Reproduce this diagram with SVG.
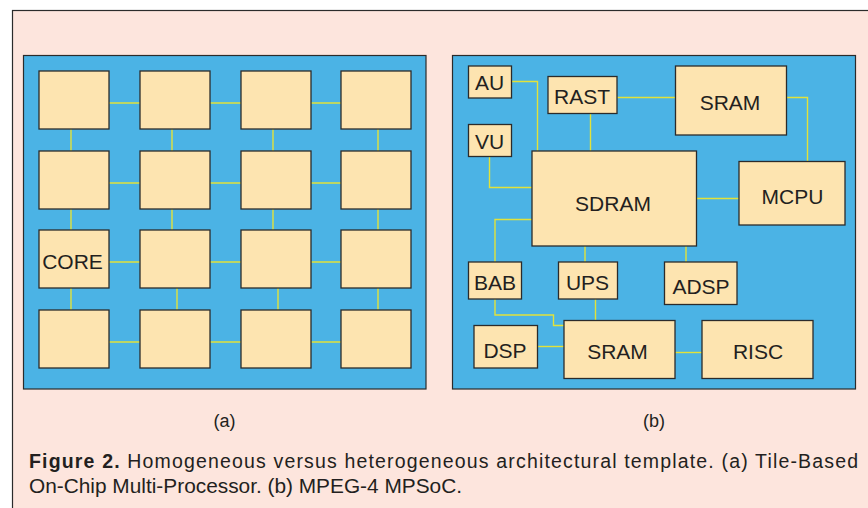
<svg xmlns="http://www.w3.org/2000/svg" width="868" height="508" viewBox="0 0 868 508">
  <style>
    .panel { fill: #4bb3e5; stroke: #2b2b2b; stroke-width: 1.2; }
    .node { fill: #fde4b0; stroke: #2b2b2b; stroke-width: 1.3; }
    .link { fill: none; stroke: #e2e23a; stroke-width: 1.4; }
    .lbl { font-family: "Liberation Sans", Arial, Helvetica, sans-serif; font-size: 21px; fill: #231f20; text-anchor: middle; }
    .sub { font-family: "Liberation Sans", Arial, Helvetica, sans-serif; font-size: 18px; fill: #231f20; text-anchor: middle; }
    .cap { font-family: "Liberation Sans", Arial, Helvetica, sans-serif; font-size: 19.5px; fill: #231f20; }
  </style>

  <!-- figure frame -->
  <rect x="12.5" y="10.5" width="870" height="510" fill="#fde5dd" stroke="#2b2b2b" stroke-width="1.2"/>

  <!-- (a) tile-based panel -->
  <rect class="panel" x="23.5" y="55.5" width="402.5" height="333.5"/>
  <!-- (b) MPSoC panel -->
  <rect class="panel" x="452.5" y="55.5" width="403" height="333.5"/>

  <g id="connectors">
    <!-- mesh: horizontal links -->
    <path class="link" d="M109 103H140M210 103H241M311 103H341"/>
    <path class="link" d="M109 183H140M210 183H241M311 183H341"/>
    <path class="link" d="M109 262H140M210 262H241M311 262H341"/>
    <path class="link" d="M109 342H140M210 342H241M311 342H341"/>
    <!-- mesh: vertical links -->
    <path class="link" d="M71 129V151M172 129V151M273 129V151M378 129V151"/>
    <path class="link" d="M71 209V230M172 209V230M273 209V230M378 209V230"/>
    <path class="link" d="M71 288V310M177 288V310M278 288V310M378 288V310"/>

    <!-- MPSoC links -->
    <path class="link" d="M511 81.5H537.5V151"/>
    <path class="link" d="M590.5 113.5V151"/>
    <path class="link" d="M617 97.5H675.5"/>
    <path class="link" d="M786.5 97.5H807.5V161.5"/>
    <path class="link" d="M489.5 156V187.5H532"/>
    <path class="link" d="M696 198.5H739"/>
    <path class="link" d="M532 219.5H495V262"/>
    <path class="link" d="M585 246V262"/>
    <path class="link" d="M686 246V262"/>
    <path class="link" d="M495 299V315H553.5V325.5H564"/>
    <path class="link" d="M595.5 299V320.5"/>
    <path class="link" d="M537.5 346.5H564"/>
    <path class="link" d="M675 352.5H702"/>
  </g>

  <!-- mesh tiles -->
  <g id="tile-0-0"><rect class="node" x="39" y="71" width="70" height="58"/></g>
  <g id="tile-0-1"><rect class="node" x="140" y="71" width="70" height="58"/></g>
  <g id="tile-0-2"><rect class="node" x="241" y="71" width="70" height="58"/></g>
  <g id="tile-0-3"><rect class="node" x="341" y="71" width="70" height="58"/></g>
  <g id="tile-1-0"><rect class="node" x="39" y="151" width="70" height="58"/></g>
  <g id="tile-1-1"><rect class="node" x="140" y="151" width="70" height="58"/></g>
  <g id="tile-1-2"><rect class="node" x="241" y="151" width="70" height="58"/></g>
  <g id="tile-1-3"><rect class="node" x="341" y="151" width="70" height="58"/></g>
  <g id="tile-core"><rect class="node" x="39" y="230" width="70" height="58"/><text class="lbl" x="72.5" y="269">CORE</text></g>
  <g id="tile-2-1"><rect class="node" x="140" y="230" width="70" height="58"/></g>
  <g id="tile-2-2"><rect class="node" x="241" y="230" width="70" height="58"/></g>
  <g id="tile-2-3"><rect class="node" x="341" y="230" width="70" height="58"/></g>
  <g id="tile-3-0"><rect class="node" x="39" y="310" width="70" height="58"/></g>
  <g id="tile-3-1"><rect class="node" x="140" y="310" width="70" height="58"/></g>
  <g id="tile-3-2"><rect class="node" x="241" y="310" width="70" height="58"/></g>
  <g id="tile-3-3"><rect class="node" x="341" y="310" width="70" height="58"/></g>

  <!-- MPSoC blocks -->
  <g id="au"><rect class="node" x="468.5" y="66" width="43" height="32"/><text class="lbl" x="489.7" y="90">AU</text></g>
  <g id="rast"><rect class="node" x="548" y="76.5" width="69" height="37"/><text class="lbl" x="582" y="104">RAST</text></g>
  <g id="sram-top"><rect class="node" x="675.5" y="66" width="111" height="69"/><text class="lbl" x="730" y="110">SRAM</text></g>
  <g id="vu"><rect class="node" x="468.5" y="124.5" width="43" height="32"/><text class="lbl" x="489.7" y="149">VU</text></g>
  <g id="sdram"><rect class="node" x="532" y="151" width="164.5" height="95"/><text class="lbl" x="613" y="210.5">SDRAM</text></g>
  <g id="mcpu"><rect class="node" x="739" y="161.5" width="106" height="63.5"/><text class="lbl" x="792.5" y="204">MCPU</text></g>
  <g id="bab"><rect class="node" x="468.5" y="262" width="53" height="37"/><text class="lbl" x="495" y="290">BAB</text></g>
  <g id="ups"><rect class="node" x="558.5" y="262" width="59" height="37"/><text class="lbl" x="587.5" y="290">UPS</text></g>
  <g id="adsp"><rect class="node" x="664.5" y="262" width="72.5" height="42.5"/><text class="lbl" x="701" y="293.5">ADSP</text></g>
  <g id="dsp"><rect class="node" x="474" y="325.5" width="63.5" height="42.5"/><text class="lbl" x="505" y="358">DSP</text></g>
  <g id="sram-bottom"><rect class="node" x="564" y="320.5" width="111" height="58"/><text class="lbl" x="617.5" y="359">SRAM</text></g>
  <g id="risc"><rect class="node" x="702" y="320.5" width="111" height="58"/><text class="lbl" x="758" y="359">RISC</text></g>

  <!-- panel captions -->
  <text class="sub" x="224.5" y="427">(a)</text>
  <text class="sub" x="654" y="427">(b)</text>

  <!-- figure caption -->
  <text class="cap" x="29" y="468" textLength="829" lengthAdjust="spacing"><tspan font-weight="bold">Figure 2.</tspan> Homogeneous versus heterogeneous architectural template. (a) Tile-Based</text>
  <text class="cap" x="29" y="492.5" textLength="433" lengthAdjust="spacingAndGlyphs">On-Chip Multi-Processor. (b) MPEG-4 MPSoC.</text>
</svg>
